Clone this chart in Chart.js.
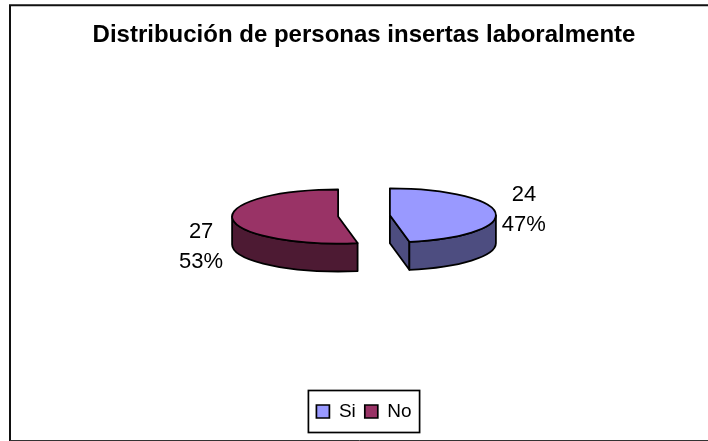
<!DOCTYPE html>
<html>
<head>
<meta charset="utf-8">
<script src="https://cdn.jsdelivr.net/npm/chart.js@4/dist/chart.umd.min.js"></script>
<style>
  html, body { margin: 0; padding: 0; background: #fff; }
  #wrap { width: 708px; height: 441px; }
</style>
</head>
<body>
<div id="wrap"><canvas id="chart"></canvas></div>
<script>
const categories = ['Si', 'No'];
const values = [24, 27];
const topColors = ['#9999ff', '#993366'];
const wallColors = ['#4d4d80', '#4d1a33'];

const FONT = '"Liberation Sans", Arial, sans-serif';
const SQUASH = 27 / 106;   // pie is seen from a low angle
const DEPTH = 28;
const OUTLINE = 1.8;

// arc.draw moves a slice by offset / 4 and also grows its radius by about the same amount
function sliceGeom(el) {
  const shift = (el.options.offset || 0) / 4;
  const mid = (el.startAngle + el.endAngle) / 2;
  const rx = el.outerRadius + shift;
  return {
    x: el.x + Math.cos(mid) * shift,
    y: el.y + Math.sin(mid) * shift * SQUASH,
    rx,
    ry: rx * SQUASH
  };
}

function drawWalls(ctx, el, i) {
  const { x, y, rx, ry } = sliceGeom(el);
  const from = Math.max(el.startAngle, 0);
  const to = Math.min(el.endAngle, Math.PI);

  ctx.fillStyle = wallColors[i];
  ctx.strokeStyle = '#000';
  ctx.lineWidth = OUTLINE;
  ctx.lineJoin = 'round';

  // cut face, only seen on the slice whose end edge looks at the viewer
  if (el.endAngle < Math.PI / 2) {
    const ex = x + Math.cos(el.endAngle) * rx, ey = y + Math.sin(el.endAngle) * ry;
    ctx.beginPath();
    ctx.moveTo(x, y);
    ctx.lineTo(ex, ey);
    ctx.lineTo(ex, ey + DEPTH);
    ctx.lineTo(x, y + DEPTH);
    ctx.closePath();
    ctx.fill();
    ctx.stroke();
  }

  // outer wall
  ctx.beginPath();
  ctx.ellipse(x, y, rx, ry, 0, from, to);
  ctx.ellipse(x, y + DEPTH, rx, ry, 0, to, from, true);
  ctx.closePath();
  ctx.fill();
  ctx.stroke();
}

const pie3d = {
  id: 'pie3d',
  beforeDraw(chart) {
    const { ctx, width, height } = chart;
    ctx.save();
    ctx.fillStyle = '#fff';
    ctx.fillRect(0, 0, width, height);
    ctx.strokeStyle = '#111';
    ctx.lineWidth = 2;
    ctx.beginPath();
    ctx.moveTo(width + 2, 5.3);
    ctx.lineTo(10, 5.3);
    ctx.lineTo(10, 441);
    ctx.stroke();
    ctx.strokeStyle = '#333';
    ctx.lineWidth = 1;
    ctx.beginPath();
    ctx.moveTo(10, 440.5);
    ctx.lineTo(width + 2, 440.5);
    ctx.stroke();
    ctx.restore();
  },
  beforeDatasetsDraw(chart) {
    const { ctx } = chart;
    const arcs = chart.getDatasetMeta(0).data;
    ctx.save();
    arcs.forEach((el, i) => drawWalls(ctx, el, i));
    const cy = arcs[0].y;
    ctx.translate(0, cy);
    ctx.scale(1, SQUASH);
    ctx.translate(0, -cy);
  },
  afterDatasetsDraw(chart) {
    const { ctx } = chart;
    ctx.restore();
    const arcs = chart.getDatasetMeta(0).data;
    const total = values.reduce((a, b) => a + b, 0);

    // top faces again at full radius, the library's offset leaves slivers, then the outline
    arcs.forEach(el => {
      const { x, y, rx, ry } = sliceGeom(el);
      ctx.save();
      ctx.fillStyle = el.options.backgroundColor;
      ctx.strokeStyle = '#000';
      ctx.lineWidth = OUTLINE;
      ctx.lineJoin = 'round';
      ctx.beginPath();
      ctx.moveTo(x, y);
      ctx.ellipse(x, y, rx, ry, 0, el.startAngle, el.endAngle);
      ctx.closePath();
      ctx.fill();
      ctx.stroke();
      ctx.restore();
    });

    // value + percent labels
    const labelSpots = [{ dx: 134, dy: -5 }, { dx: -137, dy: 30 }];
    ctx.save();
    ctx.fillStyle = '#000';
    ctx.font = '22px ' + FONT;
    ctx.textAlign = 'center';
    ctx.textBaseline = 'middle';
    arcs.forEach((el, i) => {
      const { x, y } = sliceGeom(el);
      const pct = Math.round(values[i] / total * 100) + '%';
      ctx.fillText(String(values[i]), x + labelSpots[i].dx, y + labelSpots[i].dy - 15);
      ctx.fillText(pct, x + labelSpots[i].dx, y + labelSpots[i].dy + 15);
    });
    ctx.restore();
  },
  afterDraw(chart) {
    // frame round the legend entries
    const boxes = chart.legend.legendHitBoxes;
    const { ctx } = chart;
    const last = boxes[boxes.length - 1];
    const left = boxes[0].left - 8;
    const right = last.left + last.width + 8;
    const mid = boxes[0].top + boxes[0].height / 2;
    ctx.save();
    ctx.strokeStyle = '#000';
    ctx.lineWidth = 1.7;
    ctx.strokeRect(left, mid - 21, right - left, 42);
    ctx.restore();
  }
};

new Chart(document.getElementById('chart'), {
  type: 'pie',
  data: {
    labels: categories,
    datasets: [{
      data: values,
      backgroundColor: topColors,
      borderWidth: 0,
      offset: 104,
      clip: false
    }]
  },
  options: {
    responsive: true,
    maintainAspectRatio: false,
    animation: false,
    radius: 80,
    layout: { padding: { left: 20, right: 0, top: 0, bottom: 10 } },
    plugins: {
      tooltip: { enabled: false },
      title: {
        display: true,
        text: 'Distribución de personas insertas laboralmente',
        color: '#000',
        font: { family: FONT, size: 24, weight: 'bold' },
        padding: { top: 21, bottom: -11 }
      },
      legend: {
        position: 'bottom',
        labels: {
          color: '#000',
          font: { family: FONT, size: 19 },
          boxWidth: 13,
          boxHeight: 13,
          padding: 9,
          generateLabels(chart) {
            const items = Chart.overrides.pie.plugins.legend.labels.generateLabels(chart);
            items.forEach(it => { it.strokeStyle = '#000'; it.lineWidth = 1.7; });
            return items;
          }
        }
      }
    }
  },
  plugins: [pie3d]
});
</script>
</body>
</html>
